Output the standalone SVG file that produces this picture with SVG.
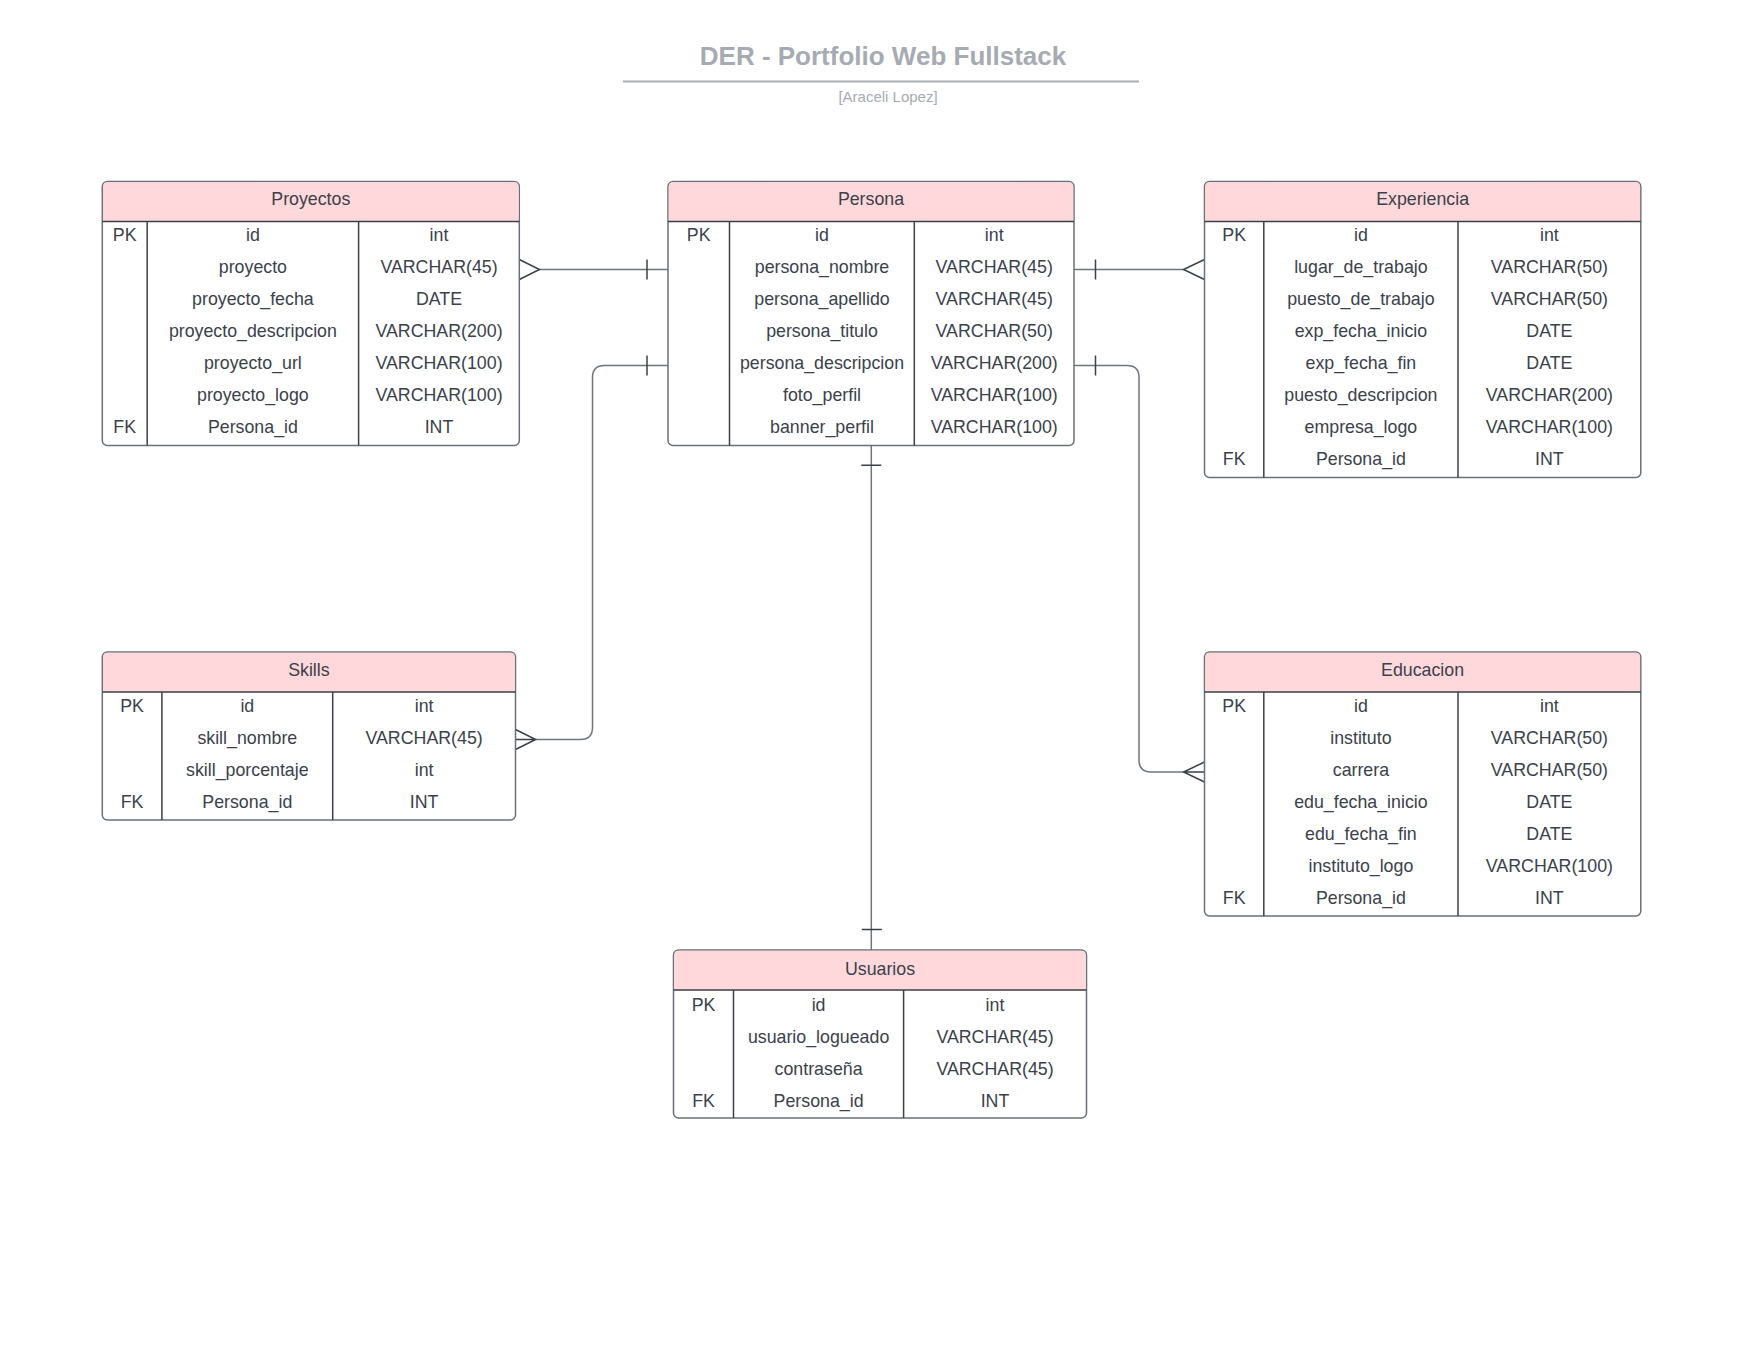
<svg xmlns="http://www.w3.org/2000/svg" width="1760" height="1360" viewBox="0 0 1760 1360">
<style>
text{font-family:"Liberation Sans",Arial,sans-serif;fill:#3a414b;font-size:17.8px;text-anchor:middle;dominant-baseline:central}
.ttl{font-size:26px;font-weight:bold;fill:#a6abb3;dominant-baseline:auto}
.sub{font-size:15px;fill:#a6abb3;dominant-baseline:auto}
.box{fill:#ffffff;stroke:#6a7079;stroke-width:1.5}
.hdr{fill:#ffd8db;stroke:none}
.in{stroke:#3a4049;stroke-width:1.5;fill:none}
.ln{stroke:#6f757d;stroke-width:1.5;fill:none}
.mk{stroke:#3a4049;stroke-width:1.5;fill:none}
</style>
<rect width="1760" height="1360" fill="#ffffff"/>
<g id="title">
<text class="ttl" x="883" y="65">DER - Portfolio Web Fullstack</text>
<line x1="623" y1="81.5" x2="1139" y2="81.5" stroke="#a9adb5" stroke-width="2"/>
<text class="sub" x="888" y="102">[Araceli Lopez]</text>
</g>
<g id="connectors">
<line class="ln" x1="539.5" y1="269.5" x2="668" y2="269.5"/>
<path class="mk" d="M519.3,259.5 L539.5,269.5 L519.3,279.5 M647,259.5 V279.5"/>
<line class="ln" x1="1074" y1="269.5" x2="1183.5" y2="269.5"/>
<path class="mk" d="M1204.5,259.5 L1183.5,269.5 L1204.5,279.5 M1095.5,259.5 V279.5"/>
<path class="ln" d="M668,365.5 H604.5 Q592.5,365.5 592.5,377.5 V727.5 Q592.5,739.5 580.5,739.5 H535.7"/>
<path class="mk" d="M647,355.5 V375.5 M515.5,729.5 L535.7,739.5 L515.5,749.5 M515.5,739.5 H535.7"/>
<path class="ln" d="M1074,365.5 H1127 Q1139,365.5 1139,377.5 V760 Q1139,772 1151,772 H1183.5"/>
<path class="mk" d="M1095.5,355.5 V375.5 M1204.5,762 L1183.5,772 L1204.5,782 M1183.5,772 H1204.5"/>
<line class="ln" x1="871.3" y1="445.5" x2="871.3" y2="950"/>
<path class="mk" d="M861.3,465.3 H881.3 M861.8,929.5 H881.8"/>
</g>
<g id="proyectos">
<rect class="box" x="102.3" y="181.5" width="417" height="264" rx="5"/>
<path class="hdr" d="M103,221.5 V186.5 Q103,182.2 107.3,182.2 H514.3 Q518.6,182.2 518.6,186.5 V221.5 Z"/>
<path class="in" d="M102.3,221.5 H519.3 M147.2,221.5 V445.5 M358.6,221.5 V445.5"/>
<text x="310.8" y="199">Proyectos</text>
<text x="124.7" y="234.5">PK</text><text x="252.9" y="234.5">id</text><text x="439" y="234.5">int</text>
<text x="252.9" y="266.5">proyecto</text><text x="439" y="266.5">VARCHAR(45)</text>
<text x="252.9" y="298.5">proyecto_fecha</text><text x="439" y="298.5">DATE</text>
<text x="252.9" y="330.5">proyecto_descripcion</text><text x="439" y="330.5">VARCHAR(200)</text>
<text x="252.9" y="362.5">proyecto_url</text><text x="439" y="362.5">VARCHAR(100)</text>
<text x="252.9" y="394.5">proyecto_logo</text><text x="439" y="394.5">VARCHAR(100)</text>
<text x="124.7" y="426.5">FK</text><text x="252.9" y="426.5">Persona_id</text><text x="439" y="426.5">INT</text>
</g>
<g id="persona">
<rect class="box" x="668" y="181.5" width="406" height="264" rx="5"/>
<path class="hdr" d="M668.7,221.5 V186.5 Q668.7,182.2 673,182.2 H1069 Q1073.3,182.2 1073.3,186.5 V221.5 Z"/>
<path class="in" d="M668,221.5 H1074 M729.5,221.5 V445.5 M914.3,221.5 V445.5"/>
<text x="871" y="199">Persona</text>
<text x="698.7" y="234.5">PK</text><text x="822" y="234.5">id</text><text x="994.2" y="234.5">int</text>
<text x="822" y="266.5">persona_nombre</text><text x="994.2" y="266.5">VARCHAR(45)</text>
<text x="822" y="298.5">persona_apellido</text><text x="994.2" y="298.5">VARCHAR(45)</text>
<text x="822" y="330.5">persona_titulo</text><text x="994.2" y="330.5">VARCHAR(50)</text>
<text x="822" y="362.5">persona_descripcion</text><text x="994.2" y="362.5">VARCHAR(200)</text>
<text x="822" y="394.5">foto_perfil</text><text x="994.2" y="394.5">VARCHAR(100)</text>
<text x="822" y="426.5">banner_perfil</text><text x="994.2" y="426.5">VARCHAR(100)</text>
</g>
<g id="experiencia">
<rect class="box" x="1204.5" y="181.5" width="436.3" height="296" rx="5"/>
<path class="hdr" d="M1205.2,221.5 V186.5 Q1205.2,182.2 1209.5,182.2 H1635.8 Q1640.1,182.2 1640.1,186.5 V221.5 Z"/>
<path class="in" d="M1204.5,221.5 H1640.8 M1263.8,221.5 V477.5 M1458,221.5 V477.5"/>
<text x="1422.6" y="199">Experiencia</text>
<text x="1234.2" y="234.5">PK</text><text x="1360.9" y="234.5">id</text><text x="1549.4" y="234.5">int</text>
<text x="1360.9" y="266.5">lugar_de_trabajo</text><text x="1549.4" y="266.5">VARCHAR(50)</text>
<text x="1360.9" y="298.5">puesto_de_trabajo</text><text x="1549.4" y="298.5">VARCHAR(50)</text>
<text x="1360.9" y="330.5">exp_fecha_inicio</text><text x="1549.4" y="330.5">DATE</text>
<text x="1360.9" y="362.5">exp_fecha_fin</text><text x="1549.4" y="362.5">DATE</text>
<text x="1360.9" y="394.5">puesto_descripcion</text><text x="1549.4" y="394.5">VARCHAR(200)</text>
<text x="1360.9" y="426.5">empresa_logo</text><text x="1549.4" y="426.5">VARCHAR(100)</text>
<text x="1234.2" y="458.5">FK</text><text x="1360.9" y="458.5">Persona_id</text><text x="1549.4" y="458.5">INT</text>
</g>
<g id="skills">
<rect class="box" x="102.3" y="652" width="413.2" height="168" rx="5"/>
<path class="hdr" d="M103,692 V657 Q103,652.7 107.3,652.7 H510.5 Q514.8,652.7 514.8,657 V692 Z"/>
<path class="in" d="M102.3,692 H515.5 M161.9,692 V820 M332.7,692 V820"/>
<text x="308.9" y="670">Skills</text>
<text x="132.1" y="706">PK</text><text x="247.3" y="706">id</text><text x="424.1" y="706">int</text>
<text x="247.3" y="738">skill_nombre</text><text x="424.1" y="738">VARCHAR(45)</text>
<text x="247.3" y="770">skill_porcentaje</text><text x="424.1" y="770">int</text>
<text x="132.1" y="802">FK</text><text x="247.3" y="802">Persona_id</text><text x="424.1" y="802">INT</text>
</g>
<g id="educacion">
<rect class="box" x="1204.5" y="652" width="436.3" height="264" rx="5"/>
<path class="hdr" d="M1205.2,692 V657 Q1205.2,652.7 1209.5,652.7 H1635.8 Q1640.1,652.7 1640.1,657 V692 Z"/>
<path class="in" d="M1204.5,692 H1640.8 M1263.8,692 V916 M1458,692 V916"/>
<text x="1422.6" y="670">Educacion</text>
<text x="1234.2" y="706">PK</text><text x="1360.9" y="706">id</text><text x="1549.4" y="706">int</text>
<text x="1360.9" y="738">instituto</text><text x="1549.4" y="738">VARCHAR(50)</text>
<text x="1360.9" y="770">carrera</text><text x="1549.4" y="770">VARCHAR(50)</text>
<text x="1360.9" y="802">edu_fecha_inicio</text><text x="1549.4" y="802">DATE</text>
<text x="1360.9" y="834">edu_fecha_fin</text><text x="1549.4" y="834">DATE</text>
<text x="1360.9" y="866">instituto_logo</text><text x="1549.4" y="866">VARCHAR(100)</text>
<text x="1234.2" y="898">FK</text><text x="1360.9" y="898">Persona_id</text><text x="1549.4" y="898">INT</text>
</g>
<g id="usuarios">
<rect class="box" x="673.5" y="950" width="413" height="168" rx="5"/>
<path class="hdr" d="M674.2,990 V955 Q674.2,950.7 678.5,950.7 H1081.5 Q1085.8,950.7 1085.8,955 V990 Z"/>
<path class="in" d="M673.5,990 H1086.5 M733.5,990 V1118 M903.6,990 V1118"/>
<text x="880" y="969">Usuarios</text>
<text x="703.5" y="1004.5">PK</text><text x="818.6" y="1004.5">id</text><text x="995" y="1004.5">int</text>
<text x="818.6" y="1036.5">usuario_logueado</text><text x="995" y="1036.5">VARCHAR(45)</text>
<text x="818.6" y="1068.5">contraseña</text><text x="995" y="1068.5">VARCHAR(45)</text>
<text x="703.5" y="1100.5">FK</text><text x="818.6" y="1100.5">Persona_id</text><text x="995" y="1100.5">INT</text>
</g>
</svg>
